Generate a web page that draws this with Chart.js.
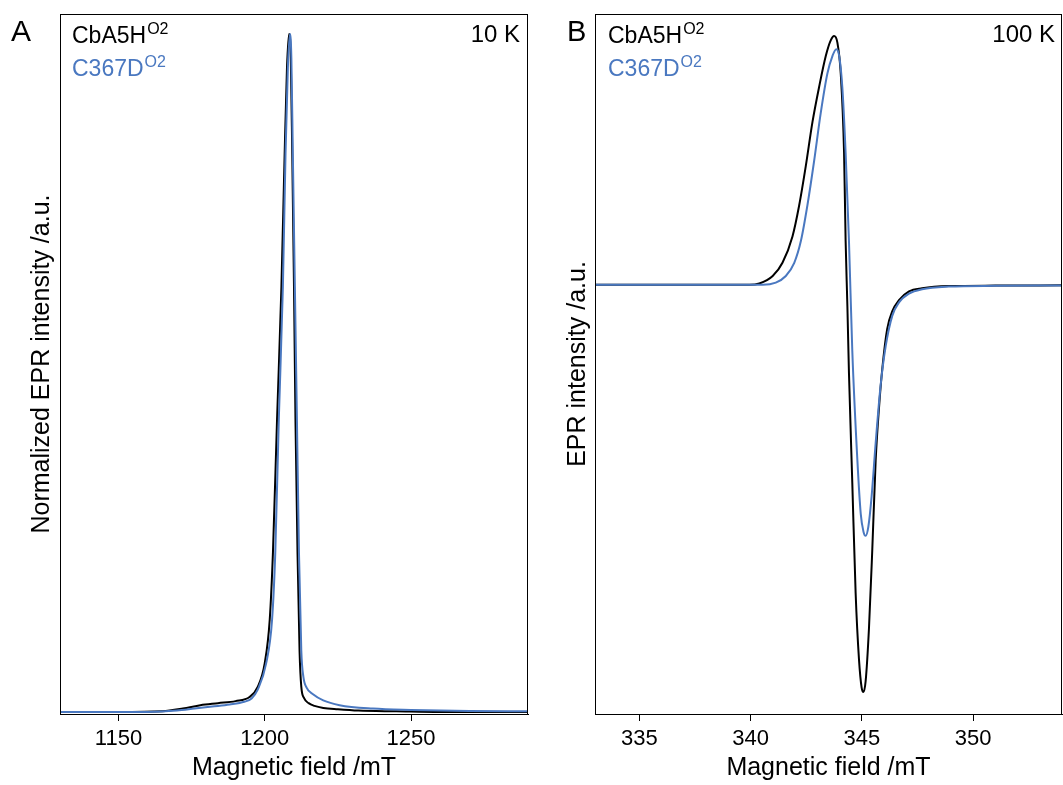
<!DOCTYPE html>
<html>
<head>
<meta charset="utf-8">
<script src="https://cdn.jsdelivr.net/npm/chart.js@4.4.1/dist/chart.umd.min.js"></script>
<style>
  html, body { margin: 0; padding: 0; background: #fff; }
  body { width: 1063px; height: 785px; position: relative; overflow: hidden;
         font-family: 'Liberation Sans', Arial, sans-serif; }
  canvas { position: absolute; top: 0; }
  .txt { position: absolute; line-height: 1; white-space: nowrap; }
  .sup { font-size: 16px; position: relative; top: -9px; margin-left: 1px; }
  .blk { color: #000; }
  .blu { color: #4a78c0; }
</style>
</head>
<body>
<canvas id="chartA" width="535" height="785" style="left:0"></canvas>
<canvas id="chartB" width="523" height="785" style="left:540px"></canvas>

<div class="txt" style="left:11px;top:16px;font-size:30px">A</div>
<div class="txt" style="left:567px;top:17px;font-size:29px">B</div>

<div class="txt blk" style="left:72px;top:24px;font-size:23px">CbA5H<span class="sup">O2</span></div>
<div class="txt blu" style="left:72px;top:57px;font-size:23px">C367D<span class="sup">O2</span></div>
<div class="txt" style="left:420px;width:100px;text-align:right;top:22px;font-size:24px">10 K</div>

<div class="txt blk" style="left:608px;top:24px;font-size:23px">CbA5H<span class="sup">O2</span></div>
<div class="txt blu" style="left:608px;top:57px;font-size:23px">C367D<span class="sup">O2</span></div>
<div class="txt" style="left:935px;width:120px;text-align:right;top:22px;font-size:24px">100 K</div>

<script>
// Panel A : 10 K, spectre normalise
const fieldA_black = [1130, 1150, 1165, 1172, 1178, 1184, 1190, 1194.8, 1197.6, 1200, 1201.7, 1202.8, 1204.2, 1205.7, 1206.8, 1207.6, 1208.3, 1208.9, 1209.4, 1210, 1210.5, 1211.2, 1211.9, 1212.5, 1213.5, 1215, 1217, 1220, 1225, 1232, 1245, 1260, 1290];
const intA_black = [0, 0, 0.001, 0.005, 0.010, 0.013, 0.016, 0.022, 0.037, 0.072, 0.136, 0.235, 0.431, 0.627, 0.823, 0.95, 1.0, 0.965, 0.823, 0.627, 0.431, 0.235, 0.09, 0.037, 0.02, 0.013, 0.009, 0.006, 0.004, 0.002, 0.001, 0, 0];

const fieldA_blue = [1130, 1160, 1170, 1176, 1182, 1188, 1193, 1195.5, 1197.6, 1200.5, 1202.5, 1203.6, 1204.8, 1206.2, 1207.1, 1207.9, 1208.6, 1209.1, 1209.6, 1210.3, 1211.0, 1211.7, 1212.5, 1213.2, 1214.3, 1216.5, 1220, 1225.6, 1237, 1250, 1270, 1290];
const intA_blue = [0, 0, 0.002, 0.005, 0.008, 0.011, 0.015, 0.02, 0.033, 0.072, 0.136, 0.235, 0.431, 0.627, 0.823, 0.95, 1.0, 0.965, 0.823, 0.627, 0.431, 0.235, 0.09, 0.052, 0.036, 0.026, 0.017, 0.010, 0.005, 0.003, 0.0015, 0.001];

// Panel B : 100 K, derivee
const fieldB_black = [333, 336, 339, 339.94, 340.39, 340.99, 341.43, 341.88, 342.18, 342.48, 342.78, 343.08, 343.38, 343.6, 343.75, 343.9, 344.05, 344.2, 344.27, 344.35, 344.42, 344.57, 344.72, 344.87, 344.99, 345.07, 345.17, 345.32, 345.47, 345.62, 345.77, 345.92, 346.14, 346.37, 346.67, 347.12, 347.71, 348.91, 351, 354];
const intB_black = [0, 0, 0, 0, 0.013, 0.088, 0.22, 0.484, 0.793, 1.189, 1.629, 1.981, 2.29, 2.444, 2.488, 2.422, 2.113, 1.321, 0.44, -0.22, -0.881, -1.981, -3.082, -3.743, -4.029, -4.073, -3.963, -3.434, -2.642, -1.761, -1.233, -0.837, -0.44, -0.264, -0.154, -0.066, -0.035, -0.013, -0.008, -0.005];

const fieldB_blue = [333, 336, 339, 340.54, 341.13, 341.58, 341.96, 342.26, 342.55, 342.85, 343.15, 343.45, 343.68, 343.85, 343.98, 344.12, 344.27, 344.42, 344.57, 344.8, 344.95, 345.07, 345.17, 345.29, 345.44, 345.62, 345.84, 346.07, 346.37, 346.67, 347.12, 347.71, 348.91, 351, 354];
const intB_blue = [0, 0, 0, 0, 0.022, 0.088, 0.22, 0.44, 0.793, 1.233, 1.717, 2.113, 2.29, 2.356, 2.29, 1.981, 1.321, 0.44, -0.66, -1.761, -2.29, -2.466, -2.51, -2.422, -2.113, -1.585, -1.013, -0.616, -0.308, -0.176, -0.088, -0.044, -0.018, -0.01, -0.006];

const BLACK = '#000000';
const BLUE = '#4a78c0';
const FONT = 'Liberation Sans, Arial, sans-serif';

function zip(xs, ys) {
    return xs.map((x, i) => ({ x: x, y: ys[i] }));
}

// cadre complet autour de la zone de trace
const framePlugin = {
    id: 'frame',
    afterDraw(chart) {
        const a = chart.chartArea;
        const ctx = chart.ctx;
        ctx.save();
        ctx.strokeStyle = BLACK;
        ctx.lineWidth = 1;
        ctx.strokeRect(a.left + 0.5, a.top + 0.5, a.right - a.left - 1, a.bottom - a.top);
        ctx.restore();
    }
};

function makeChart(id, cfg) {
    const ctx = document.getElementById(id).getContext('2d');
    return new Chart(ctx, {
        type: 'line',
        data: {
            datasets: [
                { data: zip(cfg.xBlue, cfg.yBlue), borderColor: BLUE, order: 0 },
                { data: zip(cfg.xBlack, cfg.yBlack), borderColor: BLACK, order: 1 }
            ]
        },
        options: {
            responsive: false,
            animation: false,
            parsing: false,
            layout: { padding: { top: 14, right: cfg.padRight, left: cfg.padLeft, bottom: 0 } },
            elements: {
                point: { radius: 0 },
                line: { borderWidth: 2, cubicInterpolationMode: 'monotone', fill: false }
            },
            plugins: { legend: { display: false }, tooltip: { enabled: false } },
            scales: {
                x: {
                    type: 'linear',
                    min: cfg.xMin,
                    max: cfg.xMax,
                    afterFit: (scale) => { scale.height = 71; },
                    border: { display: true, color: BLACK, width: 1 },
                    grid: { display: true, drawOnChartArea: false, drawTicks: true, tickLength: 7, color: BLACK },
                    ticks: {
                        stepSize: cfg.step,
                        includeBounds: false,
                        color: BLACK,
                        padding: 5,
                        maxRotation: 0,
                        callback: (v) => String(v),
                        font: { family: FONT, size: 22 }
                    },
                    title: {
                        display: true,
                        text: 'Magnetic field /mT',
                        color: BLACK,
                        padding: { top: 0, bottom: 2 },
                        font: { family: FONT, size: 25 }
                    }
                },
                y: {
                    min: cfg.yMin,
                    max: cfg.yMax,
                    afterFit: (scale) => { scale.width = cfg.yWidth; },
                    border: { display: true, color: BLACK, width: 1 },
                    grid: { display: false },
                    ticks: { display: false },
                    title: {
                        display: true,
                        text: cfg.yTitle,
                        color: BLACK,
                        padding: { top: 0, bottom: 0 },
                        font: { family: FONT, size: 25 }
                    }
                }
            }
        },
        plugins: [framePlugin]
    });
}

makeChart('chartA', {
    xBlack: fieldA_black, yBlack: intA_black,
    xBlue: fieldA_blue, yBlue: intA_blue,
    xMin: 1130, xMax: 1290, step: 50,
    yMin: -0.003, yMax: 1.0295,
    yTitle: 'Normalized EPR intensity /a.u.',
    padLeft: 27, yWidth: 33, padRight: 7
});

makeChart('chartB', {
    xBlack: fieldB_black, yBlack: intB_black,
    xBlue: fieldB_blue, yBlue: intB_blue,
    xMin: 333, xMax: 354, step: 5,
    yMin: -4.292, yMax: 2.708,
    yTitle: 'EPR intensity /a.u.',
    padLeft: 23, yWidth: 32, padRight: 1
});
</script>
</body>
</html>
